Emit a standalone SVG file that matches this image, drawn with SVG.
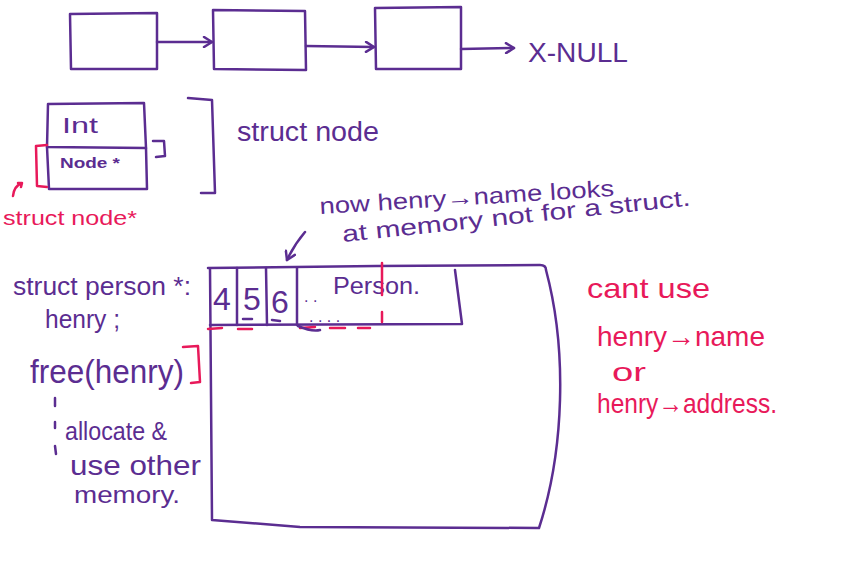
<svg xmlns="http://www.w3.org/2000/svg" width="865" height="582" viewBox="0 0 865 582">
<style>
.p{fill:none;stroke:#5b2d91;stroke-width:2.5;stroke-linecap:round;stroke-linejoin:round}
.k{fill:none;stroke:#e8195a;stroke-width:2.5;stroke-linecap:round;stroke-linejoin:round}
.tp{fill:#5b2d91;font-family:"Liberation Sans",sans-serif}
.tk{fill:#e8195a;font-family:"Liberation Sans",sans-serif}
</style>
<defs>
<marker id="ah" markerWidth="12" markerHeight="12" refX="10" refY="6" orient="auto" markerUnits="userSpaceOnUse">
<path d="M2,1 L10,6 L2,11" fill="none" stroke="#5b2d91" stroke-width="2.5" stroke-linecap="round" stroke-linejoin="round"/>
</marker>
</defs>
<rect width="865" height="582" fill="#fff"/>

<g id="list-node-1"><path class="p" d="M70,14 L157,13 L157,69 L71,69 Z"/></g>
<g id="list-node-2"><path class="p" d="M213,10 L305,11 L306,70 L214,69 Z"/></g>
<g id="list-node-3"><path class="p" d="M375,8 L461,7 L461,69 L376,69 Z"/></g>
<g id="x-null"><text class="tp" x="528" y="62" font-size="28" textLength="100" lengthAdjust="spacingAndGlyphs">X-NULL</text></g>

<g id="connectors">
<path class="p" d="M157,42 L212,42" marker-end="url(#ah)"/>
<path class="p" d="M306,46 L374,47" marker-end="url(#ah)"/>
<path class="p" d="M461,49 L514,48" marker-end="url(#ah)"/>
<path class="p" d="M305,232 Q294,245 287,260" marker-end="url(#ah)"/>
</g>

<g id="struct-node-box">
<path class="p" d="M48,104 L144,103 L146,148 L47,147 Z"/>
<path class="p" d="M47,147 L49,189 L147,189 L146,148"/>
<text class="tp" x="62" y="133" font-size="22" textLength="36" lengthAdjust="spacingAndGlyphs">Int</text>
<text class="tp" x="60" y="168" font-size="15" font-weight="bold" textLength="60" lengthAdjust="spacingAndGlyphs">Node *</text>
<path class="p" d="M153,141 L164,141 L165,156 L156,157"/>
</g>
<g id="struct-node-bracket">
<path class="p" d="M188,98 L212,100 L215,193 L201,193"/>
<text class="tp" x="237" y="141" font-size="27" textLength="142" lengthAdjust="spacingAndGlyphs">struct node</text>
</g>
<g id="struct-node-ptr">
<path class="k" d="M47,145 L36,146 L37,186 L47,187"/>
<path class="k" d="M13,196 Q14,186 22,183 M18,183 L22,183 L21,187"/>
<text class="tk" x="3" y="225" font-size="21" textLength="134" lengthAdjust="spacingAndGlyphs">struct node*</text>
</g>

<g id="annotation">
<text class="tp" x="320" y="214" font-size="23" textLength="295" lengthAdjust="spacingAndGlyphs" transform="rotate(-3.5 320 214)">now henry→name looks</text>
<text class="tp" x="343" y="242" font-size="23" textLength="350" lengthAdjust="spacingAndGlyphs" transform="rotate(-6 343 242)">at memory not for a struct.</text>
</g>

<g id="memory-block">
<path class="p" d="M208,268 L376,266 L540,265 Q546,265 546,270 Q562,330 560,400 Q558,470 539,528 L300,527 L212,520 L210,268"/>
<path class="p" d="M210,325 L462,324 L455,270"/>
<path class="p" d="M237,268 L237,325 M266,268 L267,325 M297,268 L297,325"/>
<text class="tp" x="213" y="310" font-size="32">4</text>
<text class="tp" x="243" y="310" font-size="32">5</text>
<text class="tp" x="271" y="313" font-size="32">6</text>
<text class="tp" x="333" y="294" font-size="24" textLength="87" lengthAdjust="spacingAndGlyphs">Person.</text>
<text class="tp" x="304" y="302" font-size="16">. .</text>
<text class="tp" x="309" y="322" font-size="16">. .  .  .</text>
<path class="k" d="M382,263 L382,295 M382,312 L382,322"/>
<path class="k" d="M208,329 L222,328 M238,329 L252,329 M300,328 L315,327 M330,328 L345,328 M358,328 L370,328"/>
<path class="p" d="M243,319 L252,319 M272,320 L280,321 M298,326 Q312,332 320,330"/>
</g>

<g id="henry-code">
<text class="tp" x="13" y="295" font-size="26" textLength="178" lengthAdjust="spacingAndGlyphs">struct person *:</text>
<text class="tp" x="45" y="328" font-size="26" textLength="75" lengthAdjust="spacingAndGlyphs">henry ;</text>
<text class="tp" x="30" y="383" font-size="34" textLength="154" lengthAdjust="spacingAndGlyphs">free(henry)</text>
<path class="k" d="M183,347 L198,346 L200,382 L191,383"/>
<path class="p" d="M55,398 L55,406 M55,422 L55,428 M55,446 L56,454" stroke-width="2"/>
<text class="tp" x="65" y="440" font-size="26" textLength="102" lengthAdjust="spacingAndGlyphs">allocate &amp;</text>
<text class="tp" x="70" y="475" font-size="28" textLength="131" lengthAdjust="spacingAndGlyphs">use other</text>
<text class="tp" x="74" y="503" font-size="24" textLength="106" lengthAdjust="spacingAndGlyphs">memory.</text>
</g>

<g id="cant-use">
<text class="tk" x="587" y="298" font-size="28" textLength="123" lengthAdjust="spacingAndGlyphs">cant use</text>
<text class="tk" x="597" y="346" font-size="28" textLength="168" lengthAdjust="spacingAndGlyphs">henry→name</text>
<text class="tk" x="612" y="381" font-size="26" textLength="34" lengthAdjust="spacingAndGlyphs">or</text>
<text class="tk" x="597" y="413" font-size="28" textLength="180" lengthAdjust="spacingAndGlyphs">henry→address.</text>
</g>
</svg>
